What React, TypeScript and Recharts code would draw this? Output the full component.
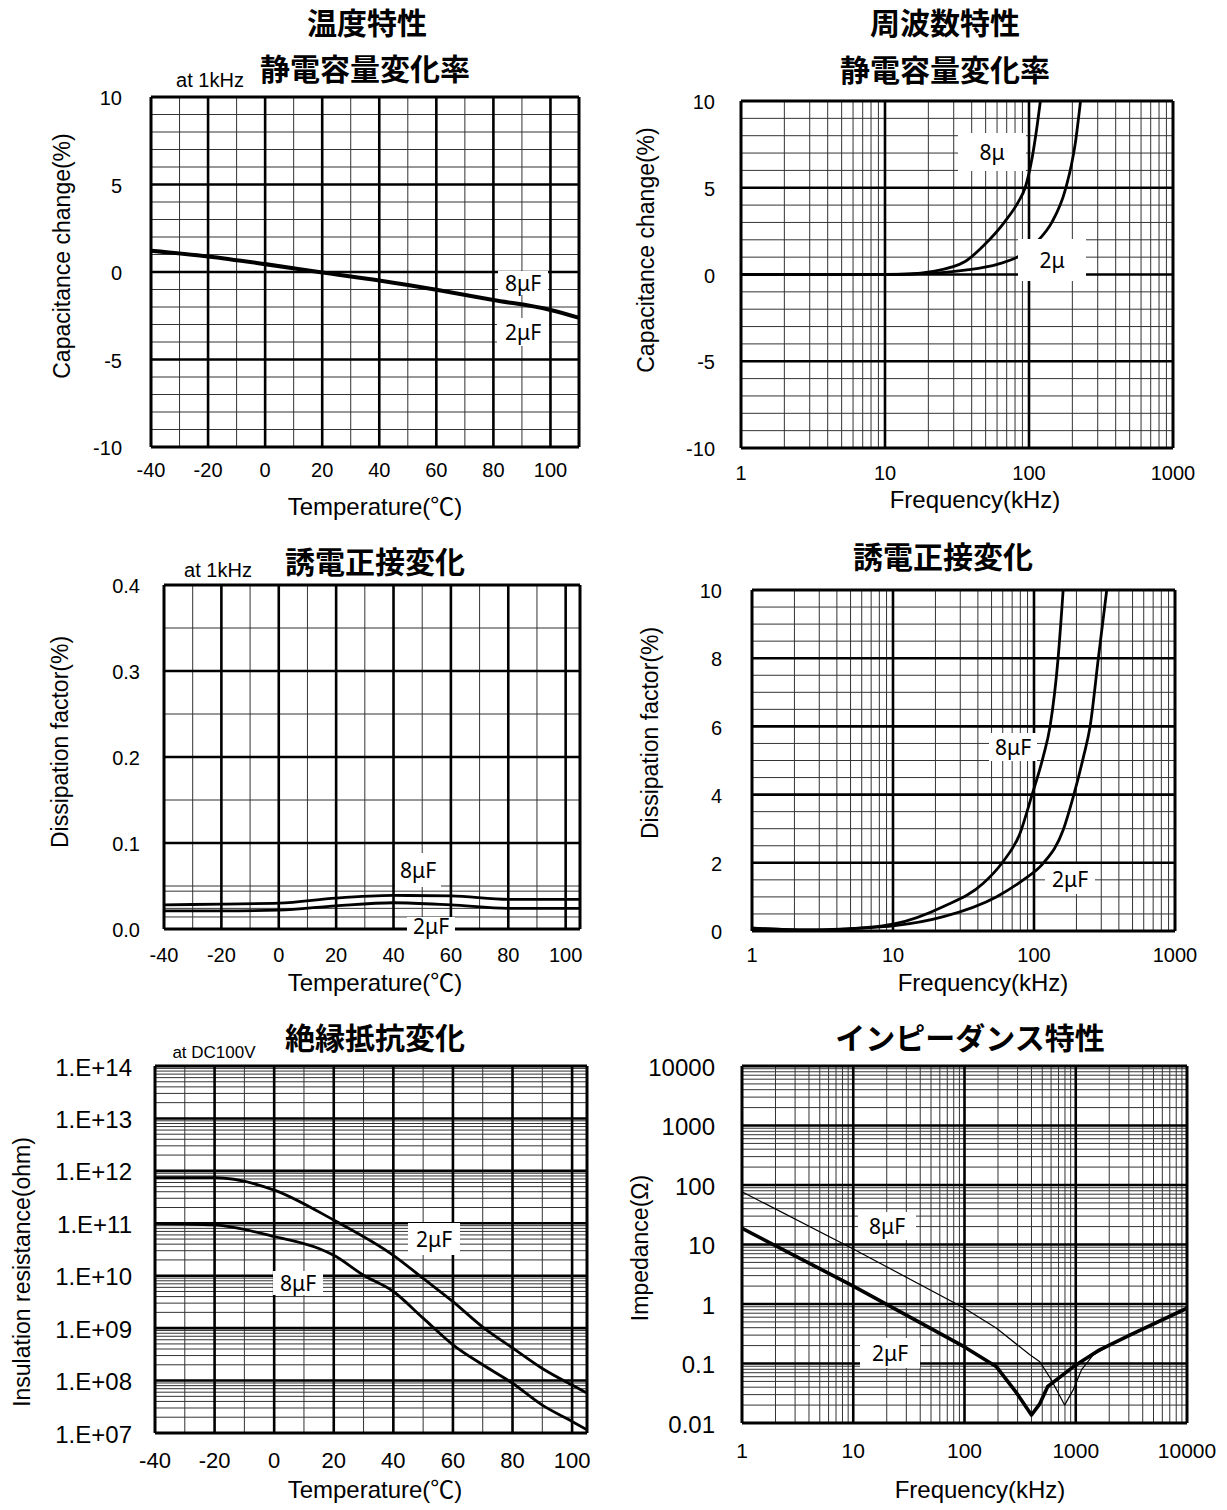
import React from 'react';
import { LineChart, Line, XAxis, YAxis, ReferenceLine } from 'recharts';

// ---------------- Data ----------------
// Temperature characteristic: capacitance change (%), at 1kHz
const capTempX = [-40, -20, 0, 20, 40, 60, 80, 100, 110];
const capTemp8uF = [1.25, 0.92, 0.48, 0.0, -0.46, -0.99, -1.57, -2.14, -2.59];
const capTemp2uF = [1.19, 0.86, 0.42, -0.06, -0.52, -1.05, -1.63, -2.2, -2.65];

// Frequency characteristic: capacitance change (%)
const capFreqX8uF = [1, 10, 15, 21, 36, 49, 68, 84.5, 94, 105, 114, 120];
const capFreq8uF = [0, 0, 0.03, 0.17, 0.75, 1.71, 3.05, 4.2, 5.0, 6.7, 8.6, 10];
const capFreqX2uF = [1, 10, 20, 36, 61, 84.5, 117, 144, 179, 210, 228];
const capFreq2uF = [0, 0, 0.06, 0.25, 0.6, 1.04, 2.0, 3.0, 4.9, 7.6, 10];

// Temperature characteristic: dissipation factor (%), at 1kHz
const dfTempX = [-40, -20, 0, 20, 40, 60, 80, 105];
const dfTemp8uF = [0.028, 0.029, 0.03, 0.036, 0.039, 0.0385, 0.0345, 0.0345];
const dfTemp2uF = [0.021, 0.021, 0.022, 0.027, 0.0305, 0.028, 0.024, 0.024];

// Frequency characteristic: dissipation factor (%)
const dfFreqX8uF = [1, 2.5, 4.2, 10, 22.8, 43.7, 58.9, 79.5, 96, 116, 130, 148.5, 161];
const dfFreq8uF = [0.08, 0.03, 0.05, 0.2, 0.72, 1.4, 1.98, 2.86, 3.94, 5.1, 6.0, 8.04, 10];
const dfFreqX2uF = [1, 2.5, 6.2, 10, 22.8, 54, 84, 116, 161, 190, 224, 250, 286, 328];
const dfFreq2uF = [0.08, 0.03, 0.09, 0.15, 0.42, 1.0, 1.5, 1.98, 2.96, 3.94, 5.1, 6.0, 8.0, 10];

// Insulation resistance (ohm), at DC100V
const irTempX2uF = [-40, -20, 0, 20, 40, 50, 60, 70, 80, 90, 100, 105];
const ir2uF = [7.4e11, 7.4e11, 4.3e11, 1.15e11, 2.45e10, 8.9e9, 3.2e9, 1.05e9, 4.2e8, 1.7e8, 8.2e7, 5.8e7];
const irTempX8uF = [-40, -20, 0, 15, 20, 30, 40, 50, 60, 70, 80, 90, 100, 105];
const ir8uF = [1.0e11, 9.3e10, 5.6e10, 3.3e10, 2.45e10, 1.02e10, 5.0e9, 1.55e9, 4.8e8, 2.0e8, 8.9e7, 3.4e7, 1.66e7, 1.15e7];

// Impedance (ohm) vs frequency (kHz)
const impFreqX8uF = [1, 10, 100, 194, 387, 475, 604, 794, 948, 1125, 1435, 3062, 10000];
const imp8uF = [77, 8.4, 0.85, 0.39, 0.14, 0.107, 0.053, 0.02, 0.036, 0.078, 0.139, 0.31, 0.85];
const impFreqX2uF = [1, 10, 100, 194, 294, 400, 475, 560, 771, 948, 1640, 3062, 10000];
const imp2uF = [18.7, 2.0, 0.19, 0.088, 0.032, 0.0136, 0.021, 0.041, 0.065, 0.088, 0.17, 0.3, 0.85];

// Ticks
const tempTicks = [-40, -20, 0, 20, 40, 60, 80, 100];
const capTicks = [-10, -5, 0, 5, 10];
const freqTicks = [1, 10, 100, 1000];
const dfTempTicks = [0, 0.1, 0.2, 0.3, 0.4];
const dfTempTickLabels = ['0.0', '0.1', '0.2', '0.3', '0.4'];
const dfFreqTicks = [0, 2, 4, 6, 8, 10];
const irTicks = [1e7, 1e8, 1e9, 1e10, 1e11, 1e12, 1e13, 1e14];
const irTickLabels = ['1.E+07', '1.E+08', '1.E+09', '1.E+10', '1.E+11', '1.E+12', '1.E+13', '1.E+14'];
const impFreqTicks = [1, 10, 100, 1000, 10000];
const impTicks = [0.01, 0.1, 1, 10, 100, 1000, 10000];
const impTickLabels = ['0.01', '0.1', '1', '10', '100', '1000', '10000'];

// ---------------- Helpers ----------------
const SANS = '"Liberation Sans", Arial, "Noto Sans CJK JP", sans-serif';
const CJK = '"Noto Sans CJK JP", sans-serif';
const LBL = '"Noto Sans", "Open Sans", sans-serif';

const range = (a: number, b: number, s: number) => {
  const out: number[] = [];
  for (let v = a; v <= b + 1e-9; v += s) out.push(Math.round(v * 1e6) / 1e6);
  return out;
};
const logMinors = (from: number, to: number) => {
  const out: number[] = [];
  for (let d = from; d < to * 0.999; d *= 10) for (let k = 2; k <= 9; k++) out.push(k * d);
  return out;
};
const toPts = (xs: number[], ys: number[]) => xs.map((x, i) => ({ x, y: ys[i] }));

type Series = { xs: number[]; ys: number[]; width: number; curve: 'monotone' | 'linear' };
type PanelProps = {
  left: number; top: number; w: number; h: number;
  xDomain: [number, number]; yDomain: [number, number];
  xLog?: boolean; yLog?: boolean;
  xTicks: number[]; yTicks: number[];
  xLabels?: string[]; yLabels?: string[];
  vThick: number[]; vThin: number[]; hThick: number[]; hThin: number[];
  series: Series[];
  xTickSize: number; yTickSize: number; yGap: number; xBase: number;
};

const WY = 110, T = 16, R = 44, HX = 50;

function Panel(p: PanelProps) {
  const xFmt = (v: number) => {
    const i = p.xTicks.indexOf(v);
    return p.xLabels && i >= 0 ? p.xLabels[i] : String(v);
  };
  const yFmt = (v: number) => {
    const i = p.yTicks.indexOf(v);
    return p.yLabels && i >= 0 ? p.yLabels[i] : String(v);
  };
  const XTick = (t: any) => (
    <text x={t.x} y={t.y + p.xBase} textAnchor="middle" fontSize={p.xTickSize} fontFamily={SANS} fill="#000">
      {xFmt(t.payload.value)}
    </text>
  );
  const YTick = (t: any) => (
    <text x={t.x - p.yGap} y={t.y + p.yTickSize * 0.36 + 1} textAnchor="end" fontSize={p.yTickSize} fontFamily={SANS} fill="#000">
      {yFmt(t.payload.value)}
    </text>
  );
  return (
    <div style={{ position: 'absolute', left: p.left - WY, top: p.top - T }}>
      <LineChart width={WY + p.w + R} height={T + p.h + HX} margin={{ top: T, right: R, bottom: 0, left: 0 }}>
        <XAxis
          type="number" dataKey="x" domain={p.xDomain} scale={p.xLog ? 'log' : 'linear'}
          ticks={p.xTicks} interval={0} allowDataOverflow height={HX}
          tickSize={0} tickMargin={0} tickLine={false} axisLine={false} tick={XTick}
        />
        <YAxis
          type="number" domain={p.yDomain} scale={p.yLog ? 'log' : 'linear'}
          ticks={p.yTicks} interval={0} allowDataOverflow width={WY}
          tickSize={0} tickMargin={0} tickLine={false} axisLine={false} tick={YTick}
        />
        {p.vThin.map((v) => <ReferenceLine key={'vn' + v} x={v} stroke="#333" strokeWidth={1} />)}
        {p.hThin.map((v) => <ReferenceLine key={'hn' + v} y={v} stroke="#333" strokeWidth={1} />)}
        {p.vThick.map((v) => <ReferenceLine key={'vk' + v} x={v} stroke="#000" strokeWidth={2.6} />)}
        {p.hThick.map((v) => <ReferenceLine key={'hk' + v} y={v} stroke="#000" strokeWidth={2.6} />)}
        <ReferenceLine x={p.xDomain[0]} stroke="#000" strokeWidth={3} />
        <ReferenceLine x={p.xDomain[1]} stroke="#000" strokeWidth={3} />
        <ReferenceLine y={p.yDomain[0]} stroke="#000" strokeWidth={3} />
        <ReferenceLine y={p.yDomain[1]} stroke="#000" strokeWidth={3} />
        {p.series.map((s, i) => (
          <Line
            key={i} data={toPts(s.xs, s.ys)} dataKey="y" type={s.curve}
            stroke="#000" strokeWidth={s.width} dot={false} activeDot={false}
            strokeLinejoin="round" isAnimationActive={false}
          />
        ))}
      </LineChart>
    </div>
  );
}

const CText = ({ cx, cy, text, size, bold, font }: { cx: number; cy: number; text: string; size: number; bold?: boolean; font?: string }) => (
  <div style={{
    position: 'absolute', left: cx, top: cy, transform: 'translate(-50%, -50%)', whiteSpace: 'nowrap',
    fontSize: size, lineHeight: 1, fontWeight: bold ? 700 : 400, fontFamily: font || SANS, color: '#000',
  }}>{text}</div>
);
const VText = ({ cx, cy, text, size }: { cx: number; cy: number; text: string; size: number }) => (
  <div style={{
    position: 'absolute', left: cx, top: cy, transform: 'translate(-50%, -50%) rotate(-90deg)', whiteSpace: 'nowrap',
    fontSize: size, lineHeight: 1, fontFamily: SANS, color: '#000',
  }}>{text}</div>
);
const BoxLabel = ({ cx, cy, text, w, h }: { cx: number; cy: number; text: string; w: number; h: number }) => (
  <div style={{
    position: 'absolute', left: cx - w / 2, top: cy - h / 2, width: w, height: h, background: '#fff',
    display: 'flex', alignItems: 'center', justifyContent: 'center', fontSize: 21, fontFamily: LBL, color: '#000',
  }}>{text}</div>
);

export default function App() {
  return (
    <div style={{ position: 'absolute', left: 0, top: 0, width: 1227, height: 1510, background: '#fff', overflow: 'hidden' }}>
      {/* Column headers */}
      <CText cx={367} cy={21} text="温度特性" size={30} bold font={CJK} />
      <CText cx={945} cy={21} text="周波数特性" size={30} bold font={CJK} />

      {/* Panel 1 */}
      <CText cx={365} cy={67} text="静電容量変化率" size={30} bold font={CJK} />
      <CText cx={210} cy={80} text="at 1kHz" size={20} />
      <Panel
        left={151} top={97} w={428} h={350}
        xDomain={[-40, 110]} yDomain={[-10, 10]}
        xTicks={tempTicks} yTicks={capTicks}
        vThick={[-20, 0, 20, 40, 60, 80, 100]} vThin={[-30, -10, 10, 30, 50, 70, 90]}
        hThick={[-5, 0, 5]} hThin={range(-9, 9, 1).filter((v) => v % 5 !== 0)}
        series={[
          { xs: capTempX, ys: capTemp8uF, width: 3, curve: 'monotone' },
          { xs: capTempX, ys: capTemp2uF, width: 3, curve: 'monotone' },
        ]}
        xTickSize={20} yTickSize={20} yGap={29} xBase={30}
      />
      <BoxLabel cx={523} cy={283} text="8μF" w={50} h={24} />
      <BoxLabel cx={523} cy={332} text="2μF" w={52} h={28} />
      <VText cx={62} cy={256} text="Capacitance change(%)" size={23} />
      <CText cx={375} cy={507} text="Temperature(℃)" size={24} />

      {/* Panel 2 */}
      <CText cx={945} cy={68} text="静電容量変化率" size={30} bold font={CJK} />
      <Panel
        left={741} top={101} w={432} h={347}
        xDomain={[1, 1000]} yDomain={[-10, 10]} xLog
        xTicks={freqTicks} yTicks={capTicks}
        vThick={[10, 100]} vThin={logMinors(1, 1000)}
        hThick={[-5, 0, 5]} hThin={range(-9, 9, 1).filter((v) => v % 5 !== 0)}
        series={[
          { xs: capFreqX8uF, ys: capFreq8uF, width: 2.8, curve: 'monotone' },
          { xs: capFreqX2uF, ys: capFreq2uF, width: 2.8, curve: 'monotone' },
        ]}
        xTickSize={20} yTickSize={20} yGap={26} xBase={32}
      />
      <BoxLabel cx={992} cy={152} text="8μ" w={68} h={38} />
      <BoxLabel cx={1052} cy={260} text="2μ" w={68} h={42} />
      <VText cx={646} cy={250} text="Capacitance change(%)" size={23} />
      <CText cx={975} cy={500} text="Frequency(kHz)" size={24} />

      {/* Panel 3 */}
      <CText cx={375} cy={560} text="誘電正接変化" size={30} bold font={CJK} />
      <CText cx={218} cy={570} text="at 1kHz" size={20} />
      <Panel
        left={164} top={585} w={416} h={344}
        xDomain={[-40, 105]} yDomain={[0, 0.4]}
        xTicks={tempTicks} yTicks={dfTempTicks} yLabels={dfTempTickLabels}
        vThick={[-20, 0, 20, 40, 60, 80, 100]} vThin={[-30, -10, 10, 30, 50, 70, 90]}
        hThick={[0.1, 0.2, 0.3]} hThin={[0.014, 0.024, 0.044, 0.05, 0.15, 0.25, 0.35]}
        series={[
          { xs: dfTempX, ys: dfTemp8uF, width: 2.8, curve: 'monotone' },
          { xs: dfTempX, ys: dfTemp2uF, width: 2.8, curve: 'monotone' },
        ]}
        xTickSize={20} yTickSize={20} yGap={24} xBase={33}
      />
      <BoxLabel cx={418} cy={870} text="8μF" w={46} h={34} />
      <BoxLabel cx={431} cy={926} text="2μF" w={48} h={18} />
      <VText cx={60} cy={742} text="Dissipation factor(%)" size={23} />
      <CText cx={375} cy={983} text="Temperature(℃)" size={24} />

      {/* Panel 4 */}
      <CText cx={943} cy={555} text="誘電正接変化" size={30} bold font={CJK} />
      <Panel
        left={752} top={590} w={423} h={341}
        xDomain={[1, 1000]} yDomain={[0, 10]} xLog
        xTicks={freqTicks} yTicks={dfFreqTicks}
        vThick={[10, 100]} vThin={logMinors(1, 1000)}
        hThick={[2, 4, 6, 8]} hThin={range(0.5, 9.5, 0.5).filter((v) => v % 2 !== 0)}
        series={[
          { xs: dfFreqX8uF, ys: dfFreq8uF, width: 2.8, curve: 'monotone' },
          { xs: dfFreqX2uF, ys: dfFreq2uF, width: 2.8, curve: 'monotone' },
        ]}
        xTickSize={20} yTickSize={20} yGap={30} xBase={31}
      />
      <BoxLabel cx={1013} cy={747} text="8μF" w={48} h={28} />
      <BoxLabel cx={1070} cy={879} text="2μF" w={50} h={30} />
      <VText cx={650} cy={733} text="Dissipation factor(%)" size={23} />
      <CText cx={983} cy={983} text="Frequency(kHz)" size={24} />

      {/* Panel 5 */}
      <CText cx={375} cy={1036} text="絶縁抵抗変化" size={30} bold font={CJK} />
      <CText cx={214} cy={1052} text="at DC100V" size={17} />
      <Panel
        left={155} top={1066} w={432} h={367}
        xDomain={[-40, 105]} yDomain={[1e7, 1e14]} yLog
        xTicks={tempTicks} yTicks={irTicks} yLabels={irTickLabels}
        vThick={[-20, 0, 20, 40, 60, 80, 100]} vThin={[-30, -10, 10, 30, 50, 70, 90]}
        hThick={[1e8, 1e9, 1e10, 1e11, 1e12, 1e13]} hThin={logMinors(1e7, 1e14)}
        series={[
          { xs: irTempX2uF, ys: ir2uF, width: 2.8, curve: 'monotone' },
          { xs: irTempX8uF, ys: ir8uF, width: 2.8, curve: 'monotone' },
        ]}
        xTickSize={22} yTickSize={24} yGap={23} xBase={35}
      />
      <BoxLabel cx={434} cy={1239} text="2μF" w={52} h={32} />
      <BoxLabel cx={298} cy={1283} text="8μF" w={50} h={24} />
      <VText cx={22} cy={1272} text="Insulation resistance(ohm)" size={23} />
      <CText cx={375} cy={1490} text="Temperature(℃)" size={24} />

      {/* Panel 6 */}
      <CText cx={970} cy={1036} text="インピーダンス特性" size={30} bold font={CJK} />
      <Panel
        left={742} top={1066} w={445} h={357}
        xDomain={[1, 10000]} yDomain={[0.01, 10000]} xLog yLog
        xTicks={impFreqTicks} yTicks={impTicks} yLabels={impTickLabels}
        vThick={[10, 100, 1000]} vThin={logMinors(1, 10000)}
        hThick={[0.1, 1, 10, 100, 1000]} hThin={logMinors(0.01, 10000)}
        series={[
          { xs: impFreqX8uF, ys: imp8uF, width: 1.2, curve: 'linear' },
          { xs: impFreqX2uF, ys: imp2uF, width: 3.6, curve: 'linear' },
        ]}
        xTickSize={21} yTickSize={24} yGap={27} xBase={35}
      />
      <BoxLabel cx={887} cy={1226} text="8μF" w={58} h={28} />
      <BoxLabel cx={890} cy={1353} text="2μF" w={60} h={30} />
      <VText cx={640} cy={1248} text="Impedance(Ω)" size={23} />
      <CText cx={980} cy={1490} text="Frequency(kHz)" size={24} />
    </div>
  );
}
